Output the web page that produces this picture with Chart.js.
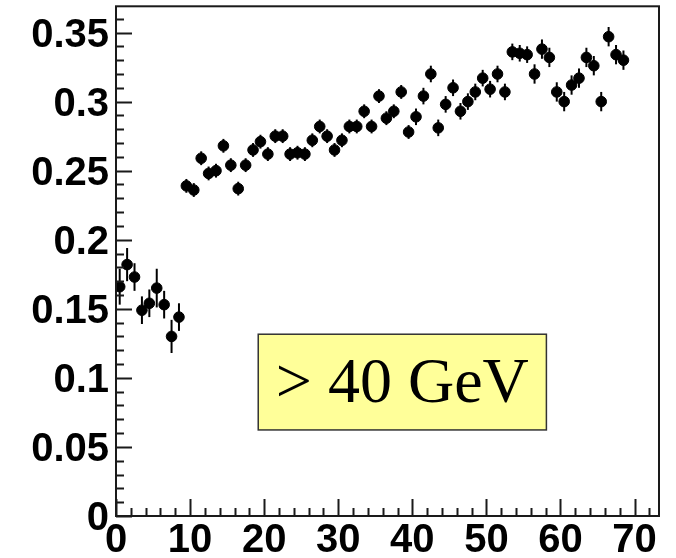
<!DOCTYPE html>
<html>
<head>
<meta charset="utf-8">
<script src="https://cdn.jsdelivr.net/npm/chart.js@4/dist/chart.umd.min.js"></script>
<style>
  html, body { margin: 0; padding: 0; background: #fff; }
  #wrap { width: 676px; height: 558px; }
</style>
</head>
<body>
<div id="wrap"><canvas id="plot" width="676" height="558"></canvas></div>
<script>
// bin centres
const xValues = [
  0.5, 1.5, 2.5, 3.5, 4.5, 5.5, 6.5, 7.5, 8.5, 9.5,
  10.5, 11.5, 12.5, 13.5, 14.5, 15.5, 16.5, 17.5, 18.5, 19.5,
  20.5, 21.5, 22.5, 23.5, 24.5, 25.5, 26.5, 27.5, 28.5, 29.5,
  30.5, 31.5, 32.5, 33.5, 34.5, 35.5, 36.5, 37.5, 38.5, 39.5,
  40.5, 41.5, 42.5, 43.5, 44.5, 45.5, 46.5, 47.5, 48.5, 49.5,
  50.5, 51.5, 52.5, 53.5, 54.5, 55.5, 56.5, 57.5, 58.5, 59.5,
  60.5, 61.5, 62.5, 63.5, 64.5, 65.5, 66.5, 67.5, 68.5
];
const yValues = [
  0.166, 0.182, 0.173, 0.149, 0.154, 0.165, 0.153, 0.130, 0.144, 0.239,
  0.236, 0.259, 0.248, 0.250, 0.268, 0.254, 0.237, 0.254, 0.265, 0.271,
  0.262, 0.275, 0.275, 0.262, 0.263, 0.262, 0.272, 0.282, 0.275, 0.265,
  0.272, 0.282, 0.282, 0.293, 0.282, 0.304, 0.288, 0.293, 0.307, 0.278,
  0.289, 0.304, 0.320, 0.281, 0.298, 0.310, 0.293, 0.300, 0.307, 0.317,
  0.309, 0.320, 0.307, 0.336, 0.335, 0.334, 0.320, 0.338, 0.332, 0.307,
  0.300, 0.312, 0.317, 0.332, 0.326, 0.300, 0.347, 0.334, 0.330
];
const yErrors = [
  0.013, 0.012, 0.010, 0.010, 0.010, 0.014, 0.010, 0.012, 0.010, 0.005,
  0.005, 0.005, 0.005, 0.005, 0.005, 0.005, 0.005, 0.005, 0.005, 0.005,
  0.005, 0.005, 0.005, 0.005, 0.005, 0.005, 0.005, 0.005, 0.005, 0.005,
  0.005, 0.005, 0.005, 0.005, 0.005, 0.005, 0.005, 0.005, 0.005, 0.005,
  0.006, 0.006, 0.006, 0.006, 0.006, 0.006, 0.006, 0.006, 0.006, 0.006,
  0.006, 0.006, 0.006, 0.006, 0.006, 0.006, 0.007, 0.007, 0.007, 0.007,
  0.007, 0.007, 0.007, 0.007, 0.007, 0.007, 0.007, 0.007, 0.007
];

const xTicks = [0, 10, 20, 30, 40, 50, 60, 70];
const xTickLabels = ["0", "10", "20", "30", "40", "50", "60", "70"];
const yTicks = [0, 0.05, 0.1, 0.15, 0.2, 0.25, 0.3, 0.35];
const yTickLabels = ["0", "0.05", "0.1", "0.15", "0.2", "0.25", "0.3", "0.35"];

const labelText = "> 40 GeV";
// label box corners in data units
const labelBox = { x0: 19.2, x1: 58.1, y0: 0.0623, y1: 0.1316 };

const AXIS_COLOR = "#1a1a1a";

// ROOT-style frame with inward ticks, error bars and the text box
const rootFrame = {
  id: "rootFrame",
  beforeDatasetsDraw(chart) {
    const { ctx } = chart;
    const xs = chart.scales.x, ys = chart.scales.y;
    ctx.save();
    ctx.strokeStyle = "#000";
    ctx.lineWidth = 2;
    yValues.forEach((v, i) => {
      const px = xs.getPixelForValue(xValues[i]);
      ctx.beginPath();
      ctx.moveTo(px, ys.getPixelForValue(v - yErrors[i]));
      ctx.lineTo(px, ys.getPixelForValue(v + yErrors[i]));
      ctx.stroke();
    });
    ctx.restore();
  },
  afterDraw(chart) {
    const { ctx, chartArea: a } = chart;
    const xs = chart.scales.x, ys = chart.scales.y;
    ctx.save();
    ctx.strokeStyle = AXIS_COLOR;
    ctx.lineWidth = 2;
    ctx.strokeRect(a.left, a.top, a.right - a.left, a.bottom - a.top);

    ctx.beginPath();
    for (let k = 0; k <= 36; k++) {
      const v = k / 100;
      const py = Math.round(ys.getPixelForValue(v)) + 0.5;
      const len = k % 5 === 0 ? 16 : 8;
      ctx.moveTo(a.left, py);
      ctx.lineTo(a.left + len, py);
    }
    for (let k = 0; k <= 72; k += 2) {
      const px = Math.round(xs.getPixelForValue(k)) + 0.5;
      const len = k % 10 === 0 ? 17 : 8;
      ctx.moveTo(px, a.bottom);
      ctx.lineTo(px, a.bottom - len);
    }
    ctx.stroke();

    // text box
    const bx0 = xs.getPixelForValue(labelBox.x0);
    const bx1 = xs.getPixelForValue(labelBox.x1);
    const by0 = ys.getPixelForValue(labelBox.y1);
    const by1 = ys.getPixelForValue(labelBox.y0);
    ctx.fillStyle = "#ffff99";
    ctx.fillRect(bx0, by0, bx1 - bx0, by1 - by0);
    ctx.lineWidth = 1.5;
    ctx.strokeStyle = "#333";
    ctx.strokeRect(bx0, by0, bx1 - bx0, by1 - by0);
    ctx.fillStyle = "#000";
    ctx.font = "64px 'Liberation Serif', 'Times New Roman', serif";
    ctx.textAlign = "center";
    ctx.textBaseline = "alphabetic";
    ctx.fillText(labelText, (bx0 + bx1) / 2, by0 + 68);
    ctx.restore();
  }
};

const tickFont = { family: "'Liberation Sans', Arial, sans-serif", size: 40, weight: "bold" };

new Chart(document.getElementById("plot").getContext("2d"), {
  type: "scatter",
  data: {
    datasets: [{
      data: xValues.map((x, i) => ({ x, y: yValues[i] })),
      backgroundColor: "#000",
      borderColor: "#000",
      borderWidth: 1,
      pointRadius: 5.3,
      pointHoverRadius: 5.3
    }]
  },
  options: {
    responsive: false,
    animation: false,
    events: [],
    layout: { padding: { top: 6, right: 17, left: 0, bottom: 0 } },
    plugins: { legend: { display: false }, tooltip: { enabled: false } },
    scales: {
      x: {
        type: "linear",
        min: 0,
        max: 73.3,
        afterBuildTicks: (s) => { s.ticks = xTicks.map(v => ({ value: v })); },
        afterFit: (s) => { s.height = 42; s.paddingLeft = 0; s.paddingRight = 0; },
        grid: { display: false, drawTicks: false },
        border: { display: false },
        ticks: {
          autoSkip: false,
          maxRotation: 0,
          padding: 1,
          color: "#000",
          font: tickFont,
          callback: (v) => xTickLabels[xTicks.indexOf(v)]
        }
      },
      y: {
        type: "linear",
        min: 0,
        max: 0.369,
        afterBuildTicks: (s) => { s.ticks = yTicks.map(v => ({ value: v })); },
        afterFit: (s) => { s.width = 116; s.paddingTop = 0; s.paddingBottom = 0; },
        grid: { display: false, drawTicks: false },
        border: { display: false },
        ticks: {
          autoSkip: false,
          padding: 7,
          labelOffset: 3,
          color: "#000",
          font: tickFont,
          callback: (v) => yTickLabels[yTicks.indexOf(v)]
        }
      }
    }
  },
  plugins: [rootFrame]
});
</script>
</body>
</html>
